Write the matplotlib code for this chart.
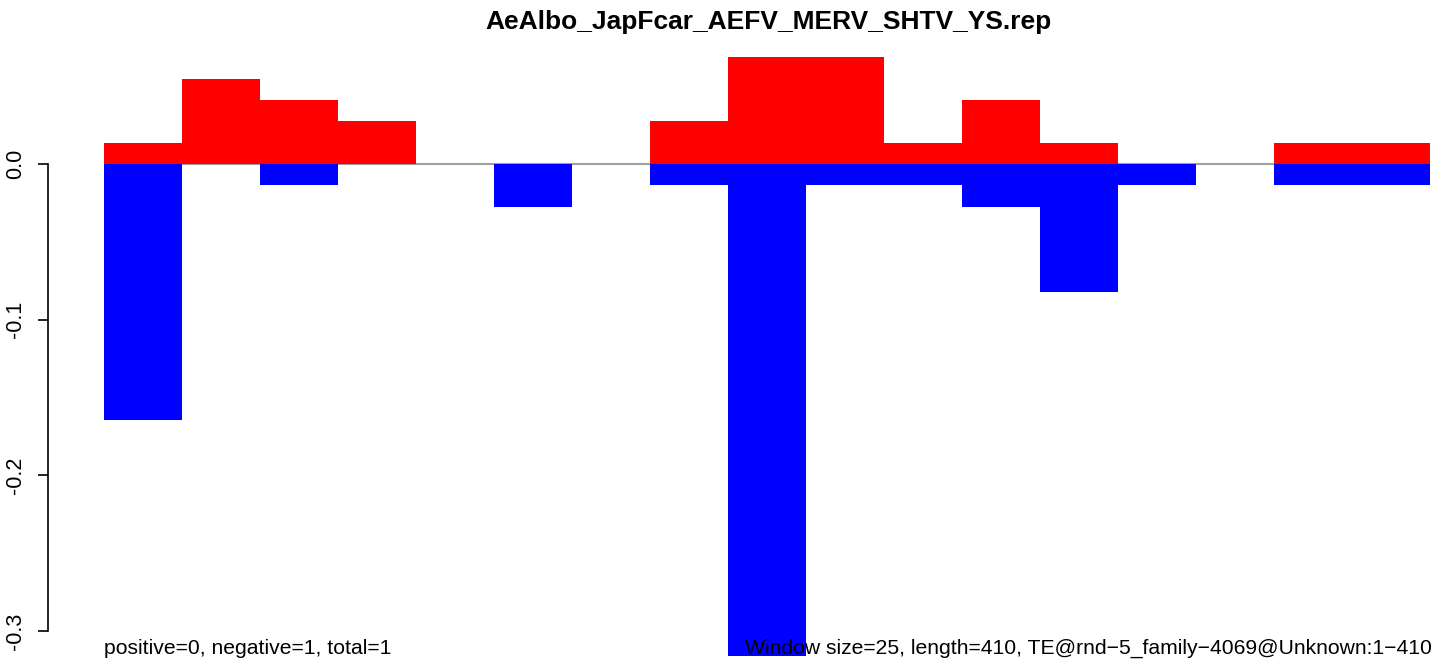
import matplotlib
matplotlib.use("Agg")
import matplotlib.pyplot as plt
import numpy as np

plt.rcParams['font.family'] = ['Liberation Sans', 'DejaVu Sans']

title = "AeAlbo_JapFcar_AEFV_MERV_SHTV_YS.rep"
left_note = "positive=0, negative=1, total=1"
right_note = "Window size=25, length=410, TE@rnd\u22125_family\u22124069@Unknown:1\u2212410"

# one value per 25-bp window (17 windows)
pos = [0.0137, 0.0548, 0.0411, 0.0274, 0, 0, 0, 0.0274, 0.0685, 0.0685,
       0.0137, 0.0411, 0.0137, 0, 0, 0.0137, 0.0137]
neg = [-0.1644, 0, -0.0137, 0, 0, -0.0274, 0, -0.0137, -0.33, -0.0137,
       -0.0137, -0.0274, -0.0822, -0.0137, 0, -0.0137, -0.0137]
yticks = [0.0, -0.1, -0.2, -0.3]

W, H = 1444, 667
fig = plt.figure(figsize=(W / 100, H / 100), dpi=100)

# axes box in pixels: left 48, right 1444, top 34, bottom 656
ax = fig.add_axes([48 / W, (H - 656) / H, (W - 48) / W, (656 - 34) / H])
x = np.arange(len(pos))
ax.hlines(0, 0, len(pos), color='#a0a0a0', lw=1.5, zorder=1)
ax.bar(x, pos, width=1, align='edge', color='#ff0000', zorder=2)
ax.bar(x, neg, width=1, align='edge', color='#0000ff', zorder=2)

ax.set_xlim((48 - 104) / 78, (1444 - 104) / 78)
ax.set_ylim(-(656 - 164) / 1556.7, (164 - 34) / 1556.7)

for s in ['top', 'right', 'bottom']:
    ax.spines[s].set_visible(False)
ax.spines['left'].set_bounds(-0.3, 0)
ax.spines['left'].set_linewidth(1.2)
ax.set_xticks([])
ax.set_yticks(yticks)
ax.set_yticklabels(['%.1f' % v for v in yticks], rotation=90, va='center')
ax.tick_params(axis='y', length=7, width=1.2, labelsize=15.5, pad=9)

fig.text(768 / W, 1 - 22 / H, title, ha='center', va='center',
         fontsize=19, fontweight='bold')
fig.text(104 / W, 1 - 648 / H, left_note, ha='left', va='center', fontsize=15.2)
fig.text(1432 / W, 1 - 648 / H, right_note, ha='right', va='center', fontsize=15.2)

fig.savefig("out.png", dpi=100)
